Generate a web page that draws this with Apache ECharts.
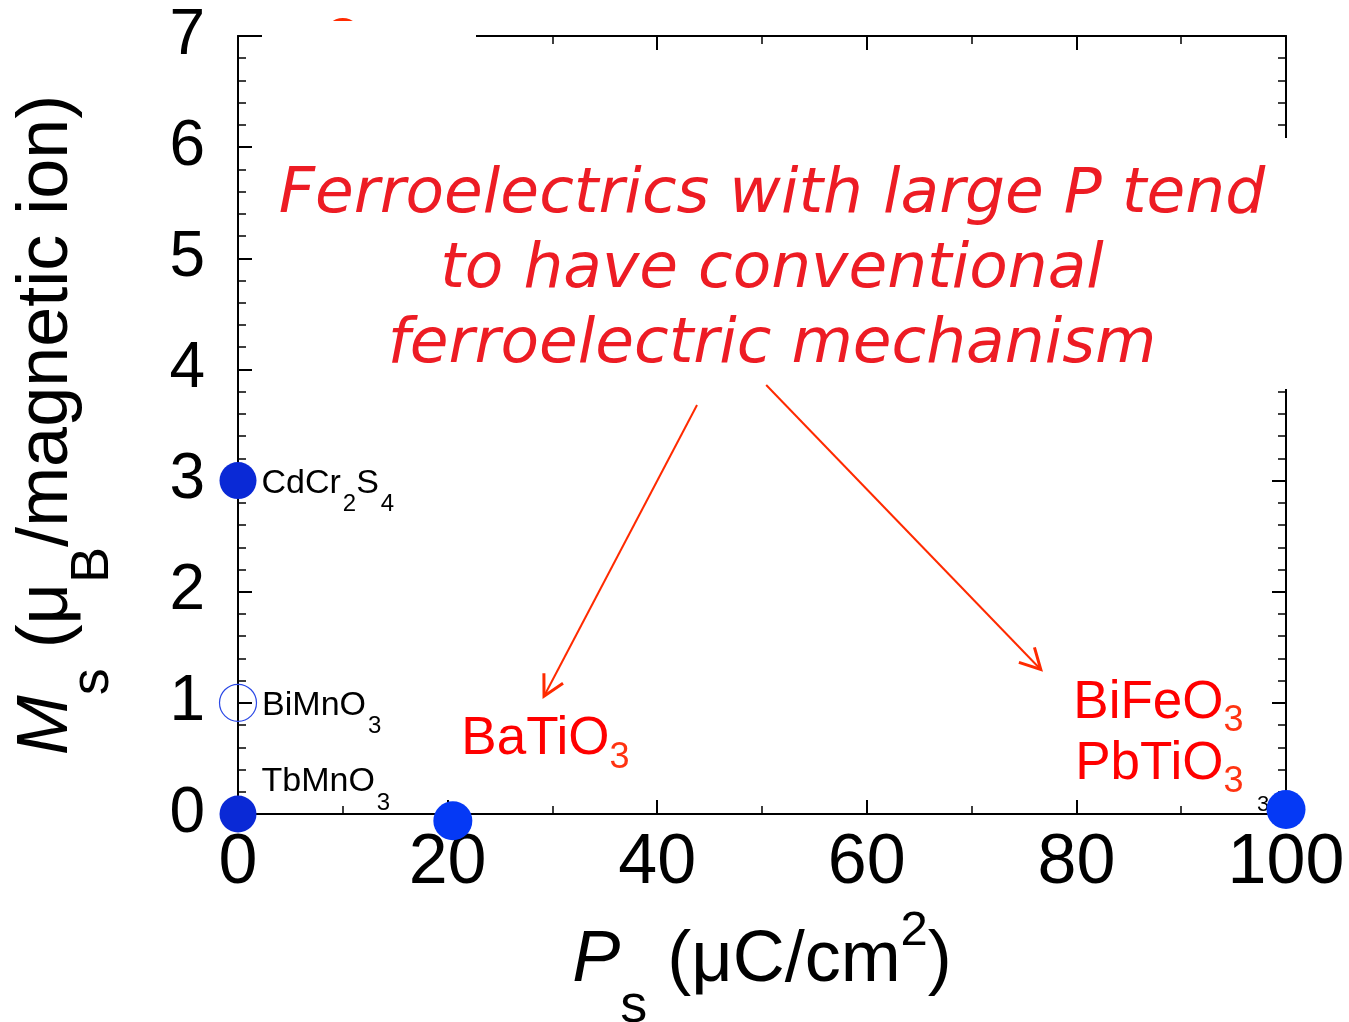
<!DOCTYPE html>
<html><head><meta charset="utf-8">
<script src="https://cdn.jsdelivr.net/npm/echarts@6/dist/echarts.min.js"></script>
<style>html,body{margin:0;padding:0;background:#fff}#c{width:1349px;height:1022px}</style>
</head><body><div id="c"></div>
<script>
// ---- data ----
const xMin = 0, xMax = 100, xStep = 20;
const yMin = 0, yMax = 7, yStep = 1;
const multiNames = ['CdCr2S4', 'BiMnO3', 'TbMnO3'];
const multiP = [0, 0, 0];
const multiM = [3, 1, 0];
const multiOpen = [false, true, false];
const ferroNames = ['BaTiO3', 'BiFeO3\nPbTiO3'];
const ferroP = [20.5, 100];
const ferroM = [-0.06, 0.04];
const clippedP = [10];
const clippedM = [7.0];
const noteLines = ['Ferroelectrics with large P tend', 'to have conventional', 'ferroelectric mechanism'];
const arrowFrom = [[43.8, 3.68], [50.4, 3.86]];
const arrowTo = [[29.2, 1.06], [76.6, 1.30]];
const hiddenLabel = '3';

// ---- helpers ----
const FONT = '"Liberation Sans", Arial, Helvetica, sans-serif';
function chem(name, m, s) {
  return name.split('\n').map(line =>
    line.replace(/([^0-9]+)|([0-9]+)/g, (all, a, b) => a ? '{' + m + '|' + a + '}' : '{' + s + '|' + b + '}')
  ).join('\n');
}
const blackRich = {
  m: {fontFamily: FONT, fontSize: 34, color: '#000', lineHeight: 40},
  s: {fontFamily: FONT, fontSize: 24, color: '#000', lineHeight: 40, padding: [42, 0, 0, 2]}
};
const redRich = {
  m: {fontFamily: FONT, fontSize: 53, color: '#ff0000', lineHeight: 61},
  s: {fontFamily: FONT, fontSize: 36, color: '#ff3311', lineHeight: 61, padding: [36, 0, 0, 0]}
};
const nameRich = {
  i: {fontFamily: FONT, fontSize: 72, fontStyle: 'italic', color: '#000', lineHeight: 80},
  m: {fontFamily: FONT, fontSize: 72, color: '#000', lineHeight: 80},
  s: {fontFamily: FONT, fontSize: 54, color: '#000', lineHeight: 80, padding: [92, 0, 0, 0]},
  p: {fontFamily: FONT, fontSize: 49, color: '#000', lineHeight: 80, padding: [0, 0, 60, 0]}
};
const axisCommon = {
  type: 'value',
  axisLine: {show: true, onZero: false, lineStyle: {color: '#000', width: 2}},
  axisTick: {show: true, inside: true, length: 14, lineStyle: {color: '#000', width: 2}},
  minorTick: {show: true, length: 8, lineStyle: {color: '#000', width: 1.5}},
  splitLine: {show: false},
  minorSplitLine: {show: false}
};

const chart = echarts.init(document.getElementById('c'));
const option = {
  animation: false,
  backgroundColor: '#fff',
  grid: {left: 238, right: 63, top: 36, bottom: 208, containLabel: false, outerBoundsMode: 'none'},
  xAxis: [
    Object.assign({}, axisCommon, {
      min: xMin, max: xMax, interval: xStep, position: 'bottom',
      minorTick: Object.assign({}, axisCommon.minorTick, {splitNumber: 2}),
      axisLabel: {fontFamily: FONT, fontSize: 70, color: '#000', margin: 15},
      name: '{i|P}{s|s}{m| (μC/cm}{p|2}{m|)}',
      nameLocation: 'middle', nameGap: 107, nameMoveOverlap: false,
      nameTextStyle: {rich: nameRich}
    }),
    Object.assign({}, axisCommon, {
      min: xMin, max: xMax, interval: xStep, position: 'top',
      minorTick: Object.assign({}, axisCommon.minorTick, {splitNumber: 2}),
      axisLabel: {show: false}
    })
  ],
  yAxis: [
    Object.assign({}, axisCommon, {
      min: yMin, max: yMax, interval: yStep, position: 'left',
      minorTick: Object.assign({}, axisCommon.minorTick, {splitNumber: 5}),
      axisLabel: {fontFamily: FONT, fontSize: 64, color: '#000', margin: 33},
      name: '{i|M}{s|s}{m| (μ}{s|B}{m|/magnetic ion)}',
      nameLocation: 'middle', nameGap: 151, nameRotate: 90, nameMoveOverlap: false,
      nameTextStyle: {rich: nameRich}
    }),
    Object.assign({}, axisCommon, {
      min: yMin, max: yMax, interval: yStep, position: 'right',
      minorTick: Object.assign({}, axisCommon.minorTick, {splitNumber: 5}),
      axisLabel: {show: false}
    })
  ],
  series: [
    {
      type: 'scatter', name: 'multiferroics', clip: false, symbol: 'circle', symbolSize: 37, z: 3,
      silent: true,
      itemStyle: {color: '#0a29d6', opacity: 1},
      label: {show: true, opacity: 1, position: 'right', distance: 5, formatter: p => chem(p.name, 'm', 's'), rich: blackRich},
      data: multiNames.map((n, i) => ({
        name: n,
        value: [multiP[i], multiM[i]],
        itemStyle: multiOpen[i] ? {color: 'rgba(0,0,0,0)', borderColor: '#2a48e6', borderWidth: 1.2, opacity: 1} : {color: '#0a29d6', opacity: 1},
        label: {offset: i === 2 ? [0, -32] : [0, 3]}
      }))
    },
    {
      type: 'scatter', name: 'ferroelectrics', clip: false, symbol: 'circle', symbolSize: 39, z: 3,
      silent: true,
      itemStyle: {color: '#0539f5', opacity: 1},
      label: {show: true, opacity: 1, formatter: p => chem(p.name, 'm', 's'), rich: redRich},
      data: ferroNames.map((n, i) => ({
        name: n,
        value: [ferroP[i], ferroM[i]],
        label: i === 0 ? {position: 'right', distance: 5, offset: [-16, -81]} : {position: 'left', distance: 5, offset: [-18, -76]}
      }))
    },
    {
      type: 'scatter', name: 'clipped', clip: false, symbol: 'circle', symbolSize: 36, z: 2,
      silent: true,
      itemStyle: {color: '#ff2a00', opacity: 1},
      data: clippedP.map((p, i) => [p, clippedM[i]])
    }
  ],
  graphic: [
    {type: 'text', id: 'hidden3', x: 1257, y: 816, z: 1,
      style: {text: hiddenLabel, fontFamily: FONT, fontSize: 22, fill: '#000', align: 'left', verticalAlign: 'bottom'}},
    {type: 'rect', id: 'coverTop', z: 100, shape: {x: 262, y: 21, width: 214, height: 36}, style: {fill: '#fff'}},
    {type: 'rect', id: 'noteBox', z: 100, shape: {x: 262, y: 138, width: 1060, height: 251}, style: {fill: '#fff'}},
    {type: 'text', id: 'note', x: 772, y: 158, z: 101,
      style: {text: noteLines.join('\n'), fontFamily: '"DejaVu Sans", Verdana, sans-serif', fontSize: 63,
        fontStyle: 'italic', fill: '#ed1c24', align: 'center', verticalAlign: 'top', lineHeight: 75}}
  ]
};
chart.setOption(option);

const arrows = [];
arrowFrom.forEach((f, i) => {
  const a = chart.convertToPixel({gridIndex: 0}, f);
  const b = chart.convertToPixel({gridIndex: 0}, arrowTo[i]);
  const ang = Math.atan2(a[1] - b[1], a[0] - b[0]);
  const L = 23, da = 28 * Math.PI / 180;
  const h1 = [b[0] + L * Math.cos(ang + da), b[1] + L * Math.sin(ang + da)];
  const h2 = [b[0] + L * Math.cos(ang - da), b[1] + L * Math.sin(ang - da)];
  arrows.push({type: 'line', id: 'al' + i, z: 102, shape: {x1: a[0], y1: a[1], x2: b[0], y2: b[1]},
    style: {stroke: '#ff2a00', lineWidth: 2}});
  arrows.push({type: 'polyline', id: 'ah' + i, z: 102, shape: {points: [h1, b, h2]},
    style: {stroke: '#ff2a00', lineWidth: 3, fill: 'none'}});
});
chart.setOption({graphic: arrows});
</script>
</body></html>
